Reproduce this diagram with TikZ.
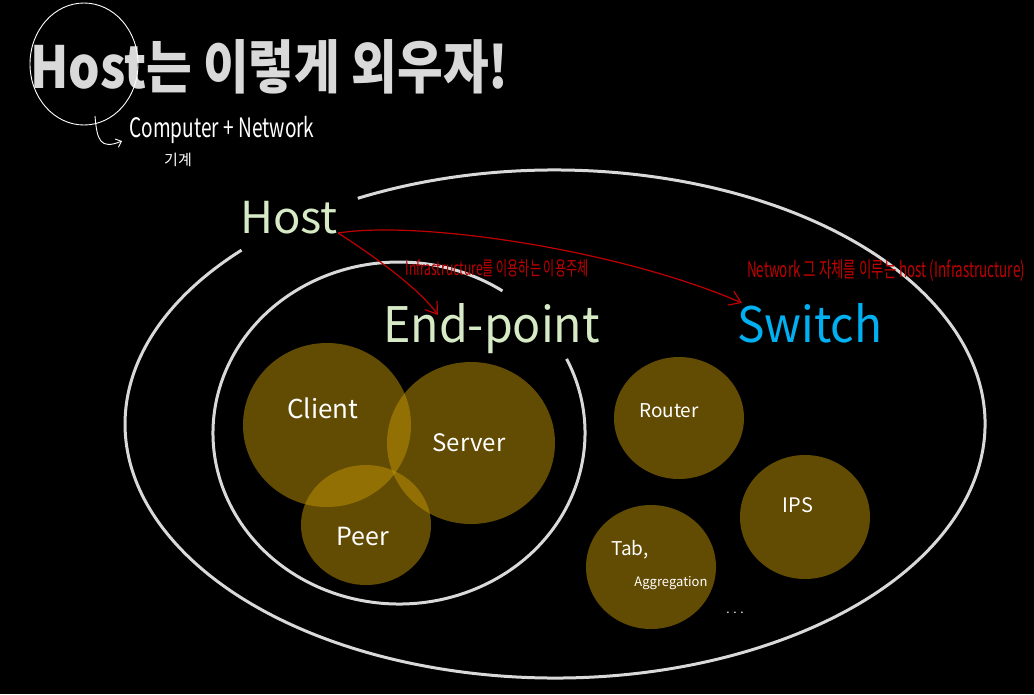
\documentclass[tikz,border=0pt]{standalone}
\usepackage{fontspec}
\setmainfont{Noto Sans CJK KR}
\usetikzlibrary{arrows.meta}
\definecolor{ringc}{HTML}{D9D9D9}
\definecolor{hostc}{HTML}{D6EAC6}
\definecolor{swc}{HTML}{00B0F0}
\definecolor{redc}{HTML}{C00000}
\definecolor{goldc}{RGB}{196,150,6}
\begin{document}
\begin{tikzpicture}[x=1pt,y=-1pt,
  ring/.style={draw=ringc,line width=3pt},
  disc/.style={fill=goldc,fill opacity=0.5},
  hand/.style={text=white,inner sep=0pt},
  note/.style={text=redc,inner sep=0pt},
  link/.style={draw=redc,line width=1.2pt,-{Straight Barb[length=11pt,width=15pt,line width=1.2pt]}},
  big/.style={inner sep=0pt,anchor=base west},
  pen/.style={draw=white,line width=0.9pt}]
\fill[black] (0,0) rectangle (1034,694);
\useasboundingbox (0,0) rectangle (1034,694);

% title
\node[big,text=ringc] (title) at (30,88) {\fontsize{58}{60}\selectfont\bfseries\scalebox{0.856}[1]{Host는 이렇게 외우자!}};
\draw[pen] (84,64) ellipse[x radius=54,y radius=61];
\draw[pen,-{Straight Barb[length=5pt,width=9pt]}] (95,116) .. controls (97,140) and (100,150) .. (122,141);
\node[hand] (cn) at (222,130) {\scalebox{1}[1.4]{\resizebox{185pt}{!}{\fontsize{20}{20}\selectfont Computer + Network}}};
\node[hand] (gg) at (178,160) {\fontsize{15}{15}\selectfont 기계};

% rings
\draw[ring] (555,424) ++(-117.3:430 and 254) arc[start angle=-117.3,end angle=223.2,x radius=430,y radius=254];
\draw[ring] (399,433) ++(-25.7:186 and 171) arc[start angle=-25.7,end angle=303.8,x radius=186,y radius=171];

% discs
\path[disc] (327,425) ellipse[x radius=84,y radius=82];
\path[disc] (471,443) ellipse[x radius=84,y radius=81];
\path[disc] (366,525) ellipse[x radius=65,y radius=60];
\path[disc] (679,418) ellipse[x radius=65,y radius=61];
\path[disc] (805,517) ellipse[x radius=65,y radius=62];
\path[disc] (651,567) ellipse[x radius=65,y radius=62];

% labels in discs
\node[hand] (client) at (323,408) {\fontsize{26}{26}\selectfont Client};
\node[hand] (server) at (469,443) {\fontsize{24}{24}\selectfont Server};
\node[hand] (peer) at (363,536) {\fontsize{25}{25}\selectfont Peer};
\node[hand] (router) at (669,411) {\fontsize{19}{19}\selectfont Router};
\node[hand] (ips) at (798,505) {\fontsize{20}{20}\selectfont IPS};
\node[hand] (tab) at (630,550) {\fontsize{19}{19}\selectfont Tab,};
\node[hand] (agg) at (671,583) {\fontsize{13}{13}\selectfont Aggregation};
\node[hand] (dots) at (735,613) {\fontsize{12}{12}\selectfont . . .};

% headings
\node[big,text=hostc] (host) at (240,233) {\fontsize{44}{44}\selectfont\scalebox{1.03}[1]{Host}};
\node[big,text=hostc] (ep) at (383,342) {\fontsize{49}{49}\selectfont\scalebox{0.95}[1]{End-point}};
\node[big,text=swc] (sw) at (737,342) {\fontsize{49}{49}\selectfont\scalebox{0.94}[1]{Switch}};

% red notes
\coordinate (t1) at (438,315);
\coordinate (t2) at (742,303);
\draw[link] (host.base east) .. controls (380,260) and (420,290) .. (t1);
\draw[link] (host.base east) .. controls (420,220) and (620,250) .. (t2);
\node[note] (n1) at (497,268) {\scalebox{1}[1.6]{\resizebox{183pt}{!}{\fontsize{14}{14}\selectfont Infrastructure를 이용하는 이용주체}}};
\node[note] (n2) at (886,271) {\scalebox{1}[1.6]{\resizebox{278pt}{!}{\fontsize{14}{14}\selectfont Network 그 자체를 이루는 host (Infrastructure)}}};
\end{tikzpicture}
\end{document}
